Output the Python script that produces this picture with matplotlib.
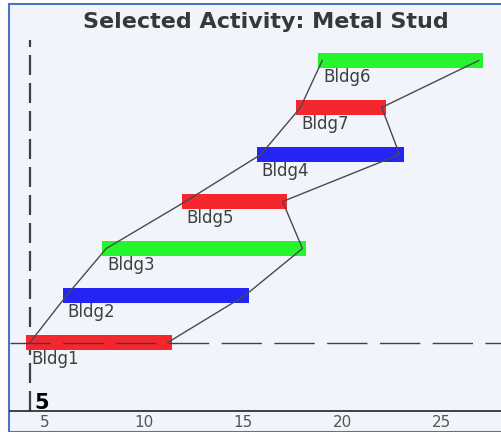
import matplotlib

matplotlib.use("Agg")
import matplotlib.pyplot as plt
from matplotlib.patches import Rectangle

# schedule rows, bottom to top
buildings = ["Bldg1", "Bldg2", "Bldg3", "Bldg5", "Bldg4", "Bldg7", "Bldg6"]
starts = [4.25, 6.1, 8.1, 12.1, 15.9, 17.9, 19.0]
ends = [11.2, 15.1, 18.0, 17.0, 22.9, 22.0, 26.9]
colors = ["#f5272e", "#2424f5", "#24f52c", "#f5272e", "#2424f5", "#f5272e", "#24f52c"]
xticks = [5, 10, 15, 20, 25]
current = 4.25
current_label = "5"

W, H = 502, 432
fig = plt.figure(figsize=(W / 100, H / 100), dpi=100)
fig.patch.set_facecolor("white")
fig.add_artist(Rectangle((9 / W, 0), 1.0, (H - 4) / H, transform=fig.transFigure,
                         facecolor="#f1f4fa", edgecolor="#4a74c8", lw=1.5,
                         zorder=-10))

ax = fig.add_axes([10 / W, 21 / H, 492 / W, 371 / H])
ax.set_facecolor("none")
ax.set_xlim(3.244, 28.07)
ax.set_ylim(-0.457, 7.436)

pad = 0.2
rows = range(1, len(buildings) + 1)
for r, name, s, e, c in zip(rows, buildings, starts, ends, colors):
    ax.barh(r, e - s + 2 * pad, left=s - pad, height=0.31, color=c, zorder=2)
    ax.text(s + 0.05, r - 0.36, name, ha="left", va="center", fontsize=12,
            color="#404040", zorder=4)

ax.plot(starts, list(rows), color="#4a4a4a", lw=1.0, zorder=3)
ax.plot(ends, list(rows), color="#4a4a4a", lw=1.0, zorder=3)

ax.axvline(current, color="#404040", lw=1.6, dashes=(9, 3.6), zorder=1)
ax.axhline(1, color="#404040", lw=1.0, dashes=(29, 9), zorder=3)
ax.text(current + 0.2, -0.28, current_label, fontsize=15, fontweight="bold",
        color="black", ha="left", va="center")

ax.set_xticks(xticks)
ax.set_yticks([])
ax.tick_params(axis="x", length=0, pad=3, labelsize=11, labelcolor="#555555")
for side in ["left", "right", "top"]:
    ax.spines[side].set_visible(False)
ax.spines["bottom"].set_color("#222222")
ax.spines["bottom"].set_linewidth(1.2)

fig.text(0.53, 1 - 22 / H, "Selected Activity: Metal Stud", ha="center", va="center",
         fontsize=16, fontweight="bold", color="#383838")

fig.savefig("out.png", dpi=100)
plt.close(fig)
